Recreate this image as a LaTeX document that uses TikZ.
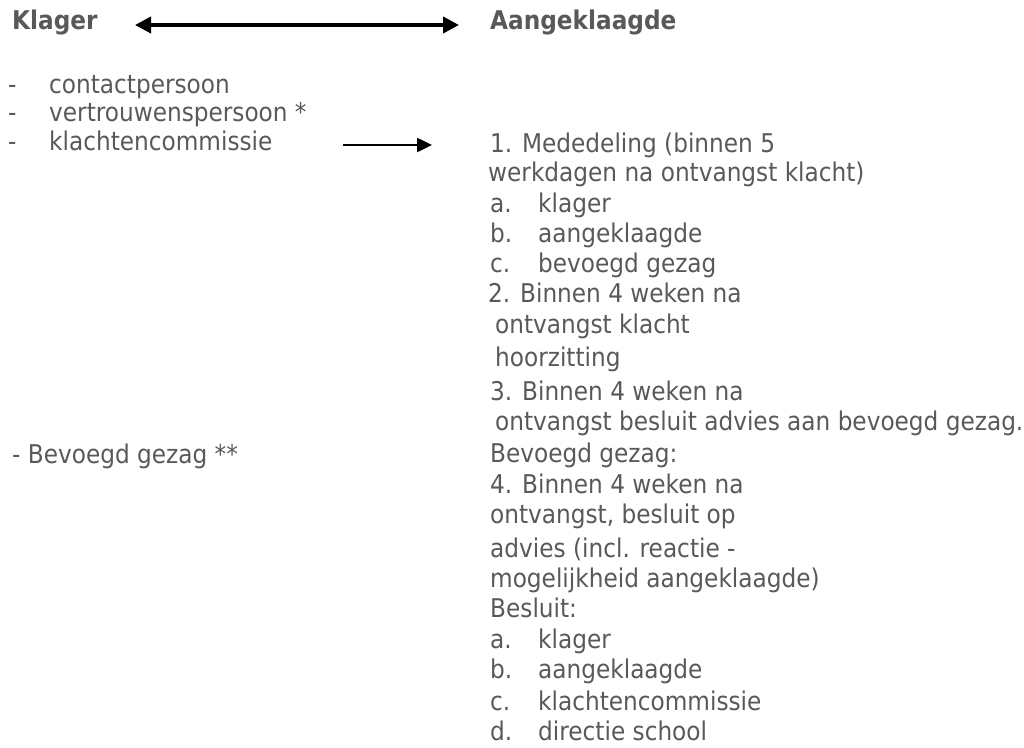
\documentclass[tikz,border=0pt]{standalone}
\usepackage{fontspec}
\setmainfont{DejaVu Sans Condensed}
\usetikzlibrary{arrows.meta}
\definecolor{textgrey}{RGB}{89,89,89}
\newcommand{\sublbl}[1]{\makebox[48pt][l]{#1}}

\begin{document}
\begin{tikzpicture}[x=1pt, y=-1pt,
	txt/.style={anchor=base west, inner sep=0pt, text=textgrey, font=\fontsize{25.8}{30}\selectfont},
	headtxt/.style={txt, font=\fontsize{25.8}{30}\selectfont\bfseries},
	bigarrow/.style={line width=3.8pt, {Triangle[length=16pt,width=16pt]}-{Triangle[length=16pt,width=16pt]}},
	smallarrow/.style={line width=2.5pt, -{Triangle[length=15pt,width=14pt]}}]
	\useasboundingbox (0,0) rectangle (1024,747);

	% draw headers
	\node[headtxt] (klager) at (12,29) {Klager};
	\node[headtxt] (aangeklaagde) at (490,29) {Aangeklaagde};
	\coordinate (top-l) at (135,25);
	\coordinate (top-r) at (459,25);
	\draw[bigarrow] (top-l) -- (top-r);

	% draw left column
	\foreach \y/\t [count=\i] in {93/contactpersoon, 121/{vertrouwenspersoon *}, 150/klachtencommissie} {
		\node[txt] (dash\i) at (8,\y) {-};
		\node[txt] (l\i) at (49,\y) {\t};
	}
	\node[txt] (gezag) at (12,463) {- Bevoegd gezag **};

	% draw right column
	\foreach \y/\x/\t [count=\i] in {
		152/490/{1. Mededeling (binnen 5},
		181/488/{werkdagen na ontvangst klacht)},
		212/490/{\sublbl{a.}klager},
		242/490/{\sublbl{b.}aangeklaagde},
		272/490/{\sublbl{c.}bevoegd gezag},
		302/488/{2. Binnen 4 weken na},
		333/495/{ontvangst klacht},
		366/495/{hoorzitting},
		400/490/{3. Binnen 4 weken na},
		430/495/{ontvangst besluit advies aan bevoegd gezag.},
		462/490/{Bevoegd gezag:},
		493/490/{4. Binnen 4 weken na},
		523/490/{ontvangst, besluit op},
		557/490/{advies (incl. reactie -},
		587/490/{mogelijkheid aangeklaagde)},
		617/490/{Besluit:},
		648/490/{\sublbl{a.}klager},
		678/490/{\sublbl{b.}aangeklaagde},
		710/490/{\sublbl{c.}klachtencommissie},
		740/490/{\sublbl{d.}directie school}} {
		\node[txt] (r\i) at (\x,\y) {\t};
	}

	% draw arrow to the commission steps
	\coordinate (mid-l) at (343,145);
	\coordinate (mid-r) at (432,145);
	\draw[smallarrow] (mid-l) -- (mid-r);
\end{tikzpicture}
\end{document}
